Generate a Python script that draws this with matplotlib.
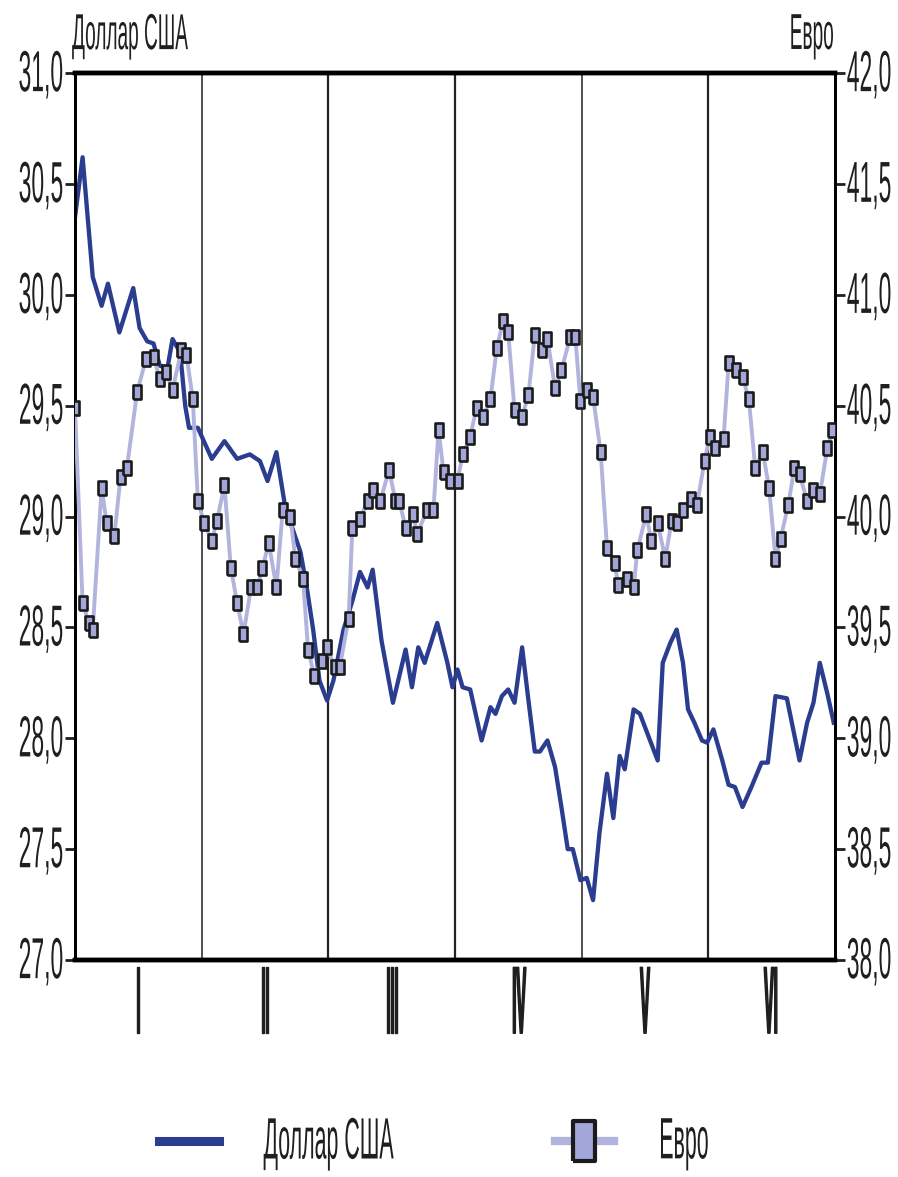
import matplotlib
matplotlib.use('Agg')
import matplotlib.pyplot as plt
import matplotlib.patheffects as pe
from matplotlib.lines import Line2D
from matplotlib.transforms import Affine2D
import numpy as np

plt.rcParams['font.family'] = ['Liberation Sans', 'DejaVu Sans']

months = ['I', 'II', 'III', 'IV', 'V', 'VI']

# time in months from 1 January, rate in roubles
usd_t = [0.00, 0.06, 0.14, 0.21, 0.26, 0.35, 0.46, 0.51, 0.57, 0.62,
         0.67, 0.73, 0.77, 0.83, 0.87, 0.90, 0.97, 1.08, 1.18, 1.28,
         1.38, 1.46, 1.52, 1.59, 1.66, 1.72, 1.78, 1.83, 1.88, 1.93,
         1.99, 2.04, 2.12, 2.19, 2.25, 2.31, 2.35, 2.42, 2.51, 2.61,
         2.66, 2.71, 2.76, 2.86, 2.94, 2.98, 3.02, 3.06, 3.12, 3.21,
         3.28, 3.32, 3.37, 3.42, 3.47, 3.53, 3.58, 3.63, 3.67, 3.73,
         3.79, 3.84, 3.89, 3.93, 3.99, 4.04, 4.09, 4.14, 4.20, 4.25,
         4.30, 4.34, 4.41, 4.46, 4.52, 4.60, 4.64, 4.70, 4.75, 4.80,
         4.84, 4.89, 4.95, 4.99, 5.04, 5.11, 5.16, 5.21, 5.27, 5.34,
         5.42, 5.47, 5.53, 5.62, 5.72, 5.78, 5.83, 5.88, 5.94, 5.99]
usd = [30.35, 30.62, 30.08, 29.95, 30.05, 29.83, 30.03, 29.85, 29.79, 29.78,
       29.68, 29.67, 29.80, 29.74, 29.50, 29.40, 29.40, 29.26, 29.34, 29.26,
       29.28, 29.25, 29.16, 29.29, 29.04, 28.94, 28.84, 28.68, 28.49, 28.26,
       28.17, 28.26, 28.49, 28.62, 28.75, 28.68, 28.76, 28.44, 28.16, 28.40,
       28.23, 28.41, 28.34, 28.52, 28.34, 28.23, 28.31, 28.23, 28.22, 27.99,
       28.14, 28.11, 28.19, 28.22, 28.16, 28.41, 28.17, 27.94, 27.94, 27.99,
       27.87, 27.69, 27.50, 27.50, 27.36, 27.37, 27.27, 27.57, 27.84, 27.64,
       27.92, 27.86, 28.13, 28.11, 28.02, 27.90, 28.34, 28.43, 28.49, 28.34,
       28.13, 28.07, 27.99, 27.98, 28.04, 27.90, 27.79, 27.78, 27.69, 27.78,
       27.89, 27.89, 28.19, 28.18, 27.90, 28.07, 28.16, 28.34, 28.20, 28.07]

eur_t = [0.00, 0.06, 0.11, 0.14, 0.21, 0.25, 0.31, 0.36, 0.41, 0.49,
         0.56, 0.62, 0.67, 0.72, 0.77, 0.84, 0.88, 0.93, 0.97, 1.02,
         1.08, 1.12, 1.18, 1.23, 1.28, 1.33, 1.39, 1.44, 1.48, 1.53,
         1.59, 1.64, 1.70, 1.74, 1.80, 1.84, 1.89, 1.95, 1.99, 2.05,
         2.09, 2.16, 2.19, 2.25, 2.31, 2.35, 2.41, 2.48, 2.53, 2.56,
         2.61, 2.67, 2.70, 2.78, 2.83, 2.87, 2.91, 2.96, 3.02, 3.06,
         3.12, 3.17, 3.22, 3.28, 3.33, 3.38, 3.42, 3.47, 3.53, 3.58,
         3.63, 3.69, 3.73, 3.79, 3.84, 3.91, 3.95, 3.99, 4.04, 4.09,
         4.15, 4.20, 4.26, 4.29, 4.36, 4.41, 4.44, 4.51, 4.55, 4.60,
         4.66, 4.71, 4.75, 4.80, 4.86, 4.91, 4.97, 5.01, 5.05, 5.12,
         5.16, 5.22, 5.27, 5.32, 5.37, 5.43, 5.48, 5.53, 5.57, 5.63,
         5.68, 5.72, 5.78, 5.83, 5.88, 5.94, 5.98]
eur = [40.49, 39.61, 39.52, 39.49, 40.13, 39.97, 39.91, 40.18, 40.22, 40.56,
       40.71, 40.72, 40.62, 40.65, 40.57, 40.75, 40.73, 40.53, 40.07, 39.97,
       39.89, 39.98, 40.14, 39.77, 39.61, 39.47, 39.68, 39.68, 39.77, 39.88,
       39.68, 40.03, 40.00, 39.81, 39.72, 39.40, 39.28, 39.35, 39.41, 39.32,
       39.32, 39.54, 39.95, 39.99, 40.07, 40.12, 40.07, 40.21, 40.07, 40.07,
       39.95, 40.01, 39.92, 40.03, 40.03, 40.39, 40.20, 40.16, 40.16, 40.28,
       40.36, 40.49, 40.45, 40.53, 40.76, 40.88, 40.83, 40.48, 40.45, 40.55,
       40.82, 40.75, 40.80, 40.58, 40.66, 40.81, 40.81, 40.52, 40.57, 40.54,
       40.29, 39.86, 39.79, 39.69, 39.72, 39.68, 39.85, 40.01, 39.89, 39.97,
       39.81, 39.98, 39.97, 40.03, 40.08, 40.05, 40.25, 40.36, 40.31, 40.35,
       40.69, 40.66, 40.63, 40.53, 40.22, 40.29, 40.13, 39.81, 39.90, 40.05,
       40.22, 40.19, 40.07, 40.12, 40.10, 40.31, 40.39]

usd_color = '#2a3d8f'
eur_color = '#b2b4dd'
text_color = '#1f1f1f'


class Squeeze(pe.AbstractPathEffect):
    """Draws text narrower and taller, like the condensed face of the original."""

    def __init__(self, sx, sy, anchor='center', lw=0.0):
        super().__init__()
        self.sx, self.sy, self.anchor, self.lw = sx, sy, anchor, lw

    def draw_path(self, renderer, gc, tpath, affine, rgbFace=None):
        ext = tpath.get_extents()
        x0 = {'left': ext.x0, 'center': 0.5 * (ext.x0 + ext.x1), 'right': ext.x1}[self.anchor]
        y0 = 0.5 * (ext.y0 + ext.y1)
        tr = Affine2D().translate(-x0, -y0).scale(self.sx, self.sy).translate(x0, y0)
        gc0 = renderer.new_gc()
        gc0.copy_properties(gc)
        if self.lw:
            gc0.set_linewidth(self.lw)
            gc0.set_foreground(rgbFace)
        renderer.draw_path(gc0, tpath, tr + affine, rgbFace)
        gc0.restore()


fig = plt.figure(figsize=(8.98, 11.77), dpi=100)
ax1 = fig.add_axes([75 / 898, 1 - 960 / 1177, 760 / 898, 887 / 1177])
ax2 = ax1.twinx()

box = [(-0.55, -1), (0.55, -1), (0.55, 1), (-0.55, 1), (-0.55, -1)]

for m, w in zip(range(1, 6), [1.1, 1.6, 1.6, 1.1, 1.6]):
    ax1.axvline(m, color='#222222', lw=w, zorder=1)

ax1.plot(usd_t, usd, color=usd_color, lw=3.1, zorder=3)
ax2.plot(eur_t, eur, color=eur_color, lw=2.8, marker=box, ms=9.5,
         mfc='#a3a6d8', mec='#1b1b1b', mew=1.9, zorder=3)

ax1.set_xlim(0, 6)
ax1.set_ylim(27, 31)
ax2.set_ylim(38, 42)

yt1 = np.arange(27, 31.01, 0.5)
yt2 = np.arange(38, 42.01, 0.5)
ax1.set_yticks(yt1, [f'{v:.1f}'.replace('.', ',') for v in yt1])
ax2.set_yticks(yt2, [f'{v:.1f}'.replace('.', ',') for v in yt2])
ax1.set_xticks(np.arange(6) + 0.5, months)

for ax in (ax1, ax2):
    ax.tick_params(axis='y', direction='out', length=7, width=2,
                   pad=1.5, labelsize=16, colors=text_color)
    ax.spines['top'].set_linewidth(3.2)
    ax.spines['bottom'].set_linewidth(3.2)
    ax.spines['left'].set_linewidth(2)
    ax.spines['right'].set_linewidth(2)
ax1.tick_params(axis='x', length=0, pad=17, labelsize=30, colors=text_color)

for t in ax1.get_yticklabels():
    t.set_path_effects([Squeeze(1.03, 2.6, 'right')])
for t in ax2.get_yticklabels():
    t.set_path_effects([Squeeze(1.03, 2.6, 'left')])
for t in ax1.get_xticklabels():
    t.set_fontweight('bold')
    t.set_path_effects([Squeeze(0.35, 2.3, 'center', lw=1.0)])

fig.text(72 / 898, 1 - 37 / 1177, 'Доллар США', ha='left', va='center',
         fontsize=14, color=text_color, path_effects=[Squeeze(0.98, 2.6, 'left')])
fig.text(834 / 898, 1 - 37 / 1177, 'Евро', ha='right', va='center',
         fontsize=14, color=text_color, path_effects=[Squeeze(0.98, 2.6, 'right')])

h1 = Line2D([], [], color=usd_color, lw=6.5)
h2 = Line2D([], [], color=eur_color, lw=6, marker=box, ms=29,
            mfc='#a3a6d8', mec='#1b1b1b', mew=3)
leg = fig.legend([h1, h2], ['Доллар США', 'Евро'], loc='center',
                 bbox_to_anchor=(441 / 898, 1 - 1144 / 1177), ncol=2,
                 frameon=False, fontsize=20, handlelength=2.15,
                 handletextpad=1.6, columnspacing=4.4)
for t in leg.get_texts():
    t.set_color(text_color)
    t.set_path_effects([Squeeze(0.77, 2.1, 'left')])

fig.savefig('out.png', dpi=100)
